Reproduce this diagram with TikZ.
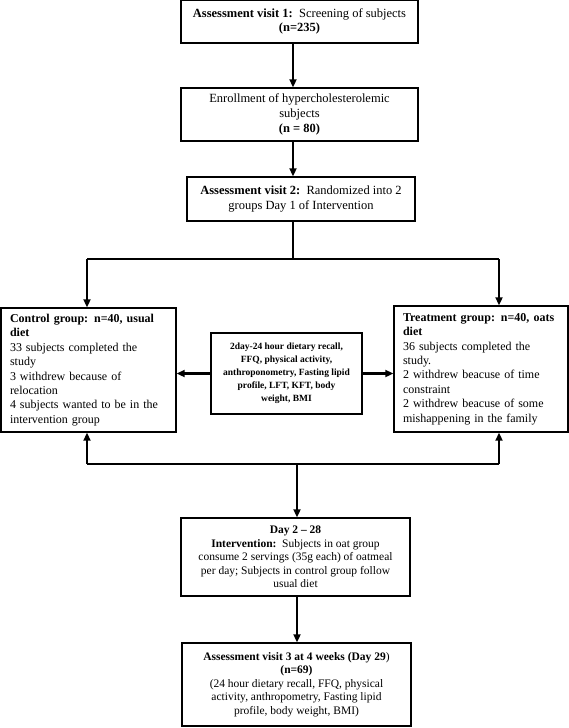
\documentclass[tikz,border=0pt]{standalone}
\usepackage{fontspec}
\setmainfont{Liberation Serif}
\usetikzlibrary{arrows.meta}

\begin{document}
\begin{tikzpicture}[x=1pt,y=-1pt,
  box/.style={draw, line width=1.4pt, align=center, inner sep=2pt,
    font=\fontsize{12.5}{14.6}\selectfont},
  smallbox/.style={box, font=\fontsize{11.5}{13.6}\selectfont},
  groupbox/.style={draw, line width=1.4pt, align=left, inner xsep=9pt,
    font=\fontsize{12}{14.4}\selectfont},
  flow/.style={line width=2.5pt, -{Triangle[length=8pt,width=7pt]}},
  link/.style={line width=2.5pt}]
  \useasboundingbox (0,0) rectangle (569,728);

  \node[box, minimum width=237pt, minimum height=43pt] (visit1) at (299.5,21.5)
    {\textbf{Assessment visit 1:}\ \ Screening of subjects\\\textbf{(n=235)}};
  \node[box, minimum width=237pt, minimum height=53pt] (enrol) at (299.5,114.5)
    {Enrollment of hypercholesterolemic\\subjects\\\textbf{(n = 80)}};
  \node[box, minimum width=228pt, minimum height=44pt] (visit2) at (301,199)
    {\textbf{Assessment visit 2:}\ \ Randomized into 2\\groups Day 1 of Intervention};

  \node[groupbox, text width=157pt, minimum height=124pt] (control) at (88.5,370)
    {\textbf{Control group: n=40, usual}\\\textbf{diet}\\33 subjects completed the\\study\\3 withdrew because of\\relocation\\4 subjects wanted to be in the\\intervention group};
  \node[groupbox, text width=156pt, minimum height=126pt] (treat) at (481,369)
    {\textbf{Treatment group: n=40, oats}\\\textbf{diet}\\36 subjects completed the\\study.\\2 withdrew beacuse of time\\constraint\\2 withdrew beacuse of some\\mishappening in the family};
  \node[box, minimum width=151pt, minimum height=81pt,
    font=\fontsize{9.5}{13}\selectfont\bfseries] (measure) at (286.5,373.5)
    {2day-24 hour dietary recall,\\FFQ, physical activity,\\anthroponometry, Fasting lipid\\profile, LFT, KFT, body\\weight, BMI};

  \node[smallbox, minimum width=229pt, minimum height=78pt] (day) at (295.5,557)
    {\textbf{Day 2 -- 28}\\\textbf{Intervention:}\ \ Subjects in oat group\\consume 2 servings (35g each) of oatmeal\\per day; Subjects in control group follow\\usual diet};
  \node[smallbox, minimum width=229pt, minimum height=83pt] (visit3) at (296.5,684.5)
    {\textbf{Assessment visit 3 at 4 weeks (Day 29})\\\textbf{(n=69)}\\(24 hour dietary recall, FFQ, physical\\activity, anthropometry, Fasting lipid\\profile, body weight, BMI)};

  \coordinate (spine) at (293,0);
  \coordinate (splitL) at (87,259);
  \coordinate (splitR) at (499,259);
  \coordinate (joinL) at (87,464);
  \coordinate (joinR) at (499,464);
  \coordinate (joinM) at (297,464);

  \draw[flow] (visit1.south -| spine) -- (enrol.north -| spine);
  \draw[flow] (enrol.south -| spine) -- (visit2.north -| spine);
  \draw[link] (visit2.south -| spine) -- (spine |- splitL);
  \draw[link] (splitL) -- (splitR);
  \draw[flow] (splitL) -- (control.north -| splitL);
  \draw[flow] (splitR) -- (treat.north -| splitR);
  \draw[flow] (measure.west) -- (control.east |- measure.west);
  \draw[flow] (measure.east) -- (treat.west |- measure.east);
  \draw[link] (joinL) -- (joinR);
  \draw[flow] (joinL) -- (control.south -| joinL);
  \draw[flow] (joinR) -- (treat.south -| joinR);
  \draw[flow] (joinM) -- (day.north -| joinM);
  \draw[flow] (day.south -| joinM) -- (visit3.north -| joinM);
\end{tikzpicture}
\end{document}
